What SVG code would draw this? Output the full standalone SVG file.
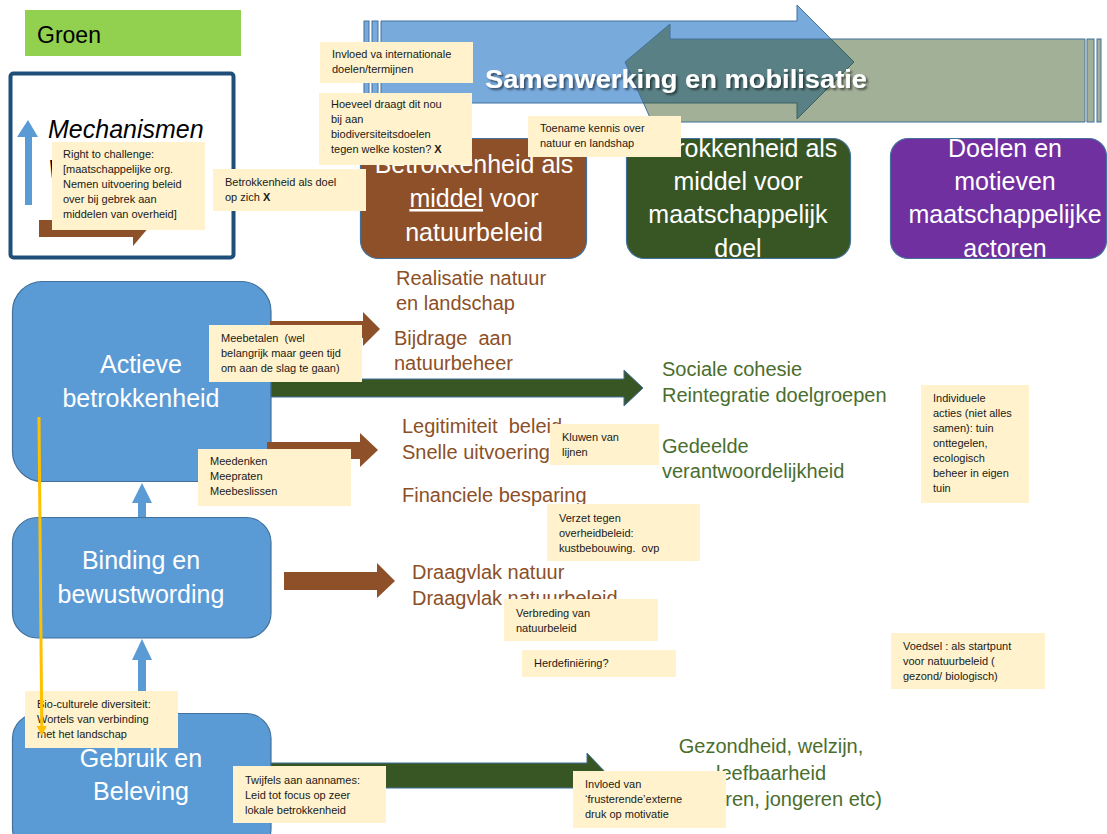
<svg xmlns="http://www.w3.org/2000/svg" width="1107" height="834" viewBox="0 0 1107 834">
<style>
text{font-family:"Liberation Sans",Arial,sans-serif}
.note rect{fill:#fff2cc}
.note text{font-size:11px;fill:#1a1a1a}
.node rect{fill:#5b9bd5;stroke:#41719c;stroke-width:1.2}
.node text{font-size:25px;fill:#fff;text-anchor:middle}
.cat text{font-size:25px;fill:#fff;text-anchor:middle}
.br{fill:#8e5029}
.gr{fill:#375623;stroke:#41719c;stroke-width:1}
.up{fill:#5b9bd5}
.tb{font-size:20px;fill:#8c5028}
.tg{font-size:20px;fill:#4a6e2e}
</style>
<defs>
<filter id="sh" x="-5%" y="-20%" width="110%" height="150%"><feDropShadow dx="2" dy="2" stdDeviation="1.2" flood-color="#000" flood-opacity="0.55"/></filter>
<clipPath id="cg"><rect x="626" y="138" width="225" height="120" rx="18"/></clipPath>
<clipPath id="cp"><rect x="890" y="138" width="217" height="120" rx="18"/></clipPath>
<marker id="ya" markerWidth="10" markerHeight="10" refX="5" refY="5" orient="auto" markerUnits="userSpaceOnUse"><path d="M0,0 L10,5 L0,10 Z" fill="#ffc000"/></marker>
</defs>

<g id="groen"><rect x="25" y="10" width="216" height="46" fill="#92d050"/><text x="37" y="43" font-size="23" fill="#000">Groen</text></g>

<g id="mechanismen">
<rect x="10.5" y="73.5" width="223" height="184" rx="3" fill="#fff" stroke="#1f4e79" stroke-width="4"/>
<polygon points="28,120 38,137 32,137 32,205 25,205 25,137 17,137" fill="#5b9bd5"/>
<text x="48" y="138" font-size="25" font-style="italic" fill="#000">Mechanismen</text>
<text x="48" y="178" font-size="25" font-style="italic" fill="#000">W</text>
<polygon points="39,220 155,220 133,246 133,237 39,237" class="br"/>
</g>

<g id="banner">
<rect x="364" y="21" width="5" height="82" fill="#78aadc" stroke="#41719c" stroke-width="1"/>
<rect x="372" y="21" width="6" height="82" fill="#78aadc" stroke="#41719c" stroke-width="1"/>
<polygon points="381,21 797,21 797,5 854,62 797,119 797,103 381,103" fill="#78aadc" stroke="#41719c" stroke-width="1"/>
<polygon points="625,62 670,24 670,39 1085,39 1085,122 652,122" fill="#344f1b" fill-opacity="0.45" stroke="#41719c" stroke-width="1"/>
<rect x="1087" y="39" width="7" height="83" fill="#344f1b" fill-opacity="0.45" stroke="#41719c" stroke-width="1"/>
<rect x="1097" y="39" width="4" height="83" fill="#344f1b" fill-opacity="0.45" stroke="#41719c" stroke-width="1"/>
<text x="676" y="88" font-size="26" font-weight="bold" fill="#fff" text-anchor="middle" textLength="382" lengthAdjust="spacingAndGlyphs" filter="url(#sh)">Samenwerking en mobilisatie</text>
</g>

<g id="cat-brown" class="cat">
<rect x="360.5" y="138.5" width="226" height="120" rx="18" fill="#8e5029" stroke="#41719c" stroke-width="1.2"/>
<text x="474" y="173">Betrokkenheid als</text>
<text x="474" y="207"><tspan text-decoration="underline">middel</tspan> voor</text>
<text x="474" y="241">natuurbeleid</text>
</g>
<g id="cat-green" class="cat">
<rect x="626.5" y="138.5" width="224" height="120" rx="18" fill="#375623" stroke="#41719c" stroke-width="1.2"/>
<g clip-path="url(#cg)">
<text x="738" y="157">Betrokkenheid als</text>
<text x="738" y="190">middel voor</text>
<text x="738" y="223">maatschappelijk</text>
<text x="738" y="257">doel</text>
</g>
</g>
<g id="cat-purple" class="cat">
<rect x="890.5" y="138.5" width="216" height="120" rx="18" fill="#7030a0" stroke="#41719c" stroke-width="1.2"/>
<g clip-path="url(#cp)">
<text x="1005" y="157">Doelen en</text>
<text x="1005" y="190">motieven</text>
<text x="1005" y="223">maatschappelijke</text>
<text x="1005" y="257">actoren</text>
</g>
</g>

<g id="node-actieve" class="node"><rect x="12.5" y="281.5" width="258.5" height="200" rx="30"/><text x="141" y="373">Actieve</text><text x="141" y="407">betrokkenheid</text></g>
<g id="node-binding" class="node"><rect x="12.5" y="517.5" width="258.5" height="120.5" rx="25"/><text x="141" y="569">Binding en</text><text x="141" y="603">bewustwording</text></g>
<g id="node-gebruik" class="node"><rect x="12.5" y="713.5" width="258.5" height="140" rx="25"/><text x="141" y="767">Gebruik en</text><text x="141" y="800">Beleving</text></g>

<g id="connectors">
<polygon class="up" points="142,483 152,503 146,503 146,517 138,517 138,503 132,503"/>
<polygon class="up" points="142,639 152,660 146,660 146,713 138,713 138,660 132,660"/>
<polygon class="br" points="270,321 363,321 363,312 380,329 363,346 363,338 270,338"/>
<polygon class="gr" points="271,379 624,379 624,370 643,388 624,406 624,397 271,397"/>
<polygon class="br" points="267,442 360,442 360,433 378,450 360,467 360,459 267,459"/>
<polygon class="br" points="284,572 377,572 377,563 395,581 377,598 377,590 284,590"/>
<polygon class="gr" points="271,763 587,763 587,753 609,776 587,799 587,788 271,788"/>
</g>

<g id="outcomes">
<text class="tb" x="396" y="285">Realisatie natuur</text>
<text class="tb" x="396" y="310">en landschap</text>
<text class="tb" x="394" y="345" xml:space="preserve">Bijdrage  aan</text>
<text class="tb" x="394" y="370">natuurbeheer</text>
<text class="tb" x="402" y="433" xml:space="preserve">Legitimiteit  beleid</text>
<text class="tb" x="402" y="459">Snelle uitvoering</text>
<text class="tb" x="402" y="502">Financiele besparing</text>
<text class="tb" x="412" y="579">Draagvlak natuur</text>
<text class="tb" x="412" y="605">Draagvlak natuurbeleid</text>
<text class="tg" x="662" y="376">Sociale cohesie</text>
<text class="tg" x="662" y="402">Reintegratie doelgroepen</text>
<text class="tg" x="662" y="453">Gedeelde</text>
<text class="tg" x="662" y="478">verantwoordelijkheid</text>
<text class="tg" x="771" y="753" text-anchor="middle">Gezondheid, welzijn,</text>
<text class="tg" x="771" y="780" text-anchor="middle">leefbaarheid</text>
<text class="tg" x="882" y="806" text-anchor="end">(ouderen, jongeren etc)</text>
</g>

<g id="note-invloed-int" class="note"><rect x="320" y="42" width="153" height="41"/><text x="332" y="58">Invloed va internationale</text><text x="332" y="73">doelen/termijnen</text></g>
<g id="note-hoeveel" class="note"><rect x="319" y="93" width="153" height="72"/><text x="331" y="108">Hoeveel draagt dit nou</text><text x="331" y="123">bij aan</text><text x="331" y="138">biodiversiteitsdoelen</text><text x="331" y="153">tegen welke kosten? <tspan font-weight="bold">X</tspan></text></g>
<g id="note-toename" class="note"><rect x="528" y="116" width="153" height="41"/><text x="540" y="132">Toename kennis over</text><text x="540" y="147">natuur en landshap</text></g>
<g id="note-right" class="note"><rect x="52" y="142" width="153" height="88"/><text x="63" y="158">Right to challenge:</text><text x="63" y="173">[maatschappelijke org.</text><text x="63" y="188">Nemen uitvoering beleid</text><text x="63" y="203">over bij gebrek aan</text><text x="63" y="218">middelen van overheid]</text></g>
<g id="note-doel" class="note"><rect x="213" y="169" width="153" height="42"/><text x="225" y="186">Betrokkenheid als doel</text><text x="225" y="201">op zich <tspan font-weight="bold">X</tspan></text></g>
<g id="note-meebetalen" class="note"><rect x="209" y="325" width="153" height="57"/><text x="221" y="342" xml:space="preserve">Meebetalen  (wel</text><text x="221" y="357">belangrijk maar geen tijd</text><text x="221" y="372">om aan de slag te gaan)</text></g>
<g id="note-meedenken" class="note"><rect x="198" y="449" width="153" height="57"/><text x="210" y="465">Meedenken</text><text x="210" y="480">Meepraten</text><text x="210" y="495">Meebeslissen</text></g>
<g id="note-kluwen" class="note"><rect x="550" y="424" width="109" height="41"/><text x="562" y="441">Kluwen van</text><text x="562" y="456">lijnen</text></g>
<g id="note-verzet" class="note"><rect x="547" y="504" width="153" height="57"/><text x="559" y="522">Verzet tegen</text><text x="559" y="537">overheidbeleid:</text><text x="559" y="552" xml:space="preserve">kustbebouwing.  ovp</text></g>
<g id="note-individuele" class="note"><rect x="921" y="385" width="108" height="118"/><text x="933" y="402">Individuele</text><text x="933" y="417">acties (niet alles</text><text x="933" y="432">samen): tuin</text><text x="933" y="447">onttegelen,</text><text x="933" y="462">ecologisch</text><text x="933" y="477">beheer in eigen</text><text x="933" y="492">tuin</text></g>
<g id="note-verbreding" class="note"><rect x="504" y="599" width="154" height="42"/><text x="516" y="617">Verbreding van</text><text x="516" y="632">natuurbeleid</text></g>
<g id="note-herdef" class="note"><rect x="522" y="650" width="154" height="27"/><text x="534" y="667">Herdefiniëring?</text></g>
<g id="note-voedsel" class="note"><rect x="891" y="633" width="154" height="56"/><text x="903" y="650">Voedsel : als startpunt</text><text x="903" y="665">voor natuurbeleid (</text><text x="903" y="680">gezond/ biologisch)</text></g>
<g id="note-bio" class="note"><rect x="25" y="691" width="153" height="57"/><text x="37" y="708">Bio-culturele diversiteit:</text><text x="37" y="723">Wortels van verbinding</text><text x="37" y="738">met het landschap</text></g>
<g id="note-twijfels" class="note"><rect x="233" y="766" width="153" height="57"/><text x="245" y="784">Twijfels aan aannames:</text><text x="245" y="799">Leid tot focus op zeer</text><text x="245" y="814">lokale betrokkenheid</text></g>
<g id="note-invloed-van" class="note"><rect x="573" y="771" width="153" height="57"/><text x="585" y="788">Invloed van</text><text x="585" y="803">‘frusterende’externe</text><text x="585" y="818">druk op motivatie</text></g>

<g id="yellow-connector"><line x1="39" y1="417" x2="41.8" y2="731" stroke="#ffc000" stroke-width="3" marker-end="url(#ya)"/></g>
</svg>
